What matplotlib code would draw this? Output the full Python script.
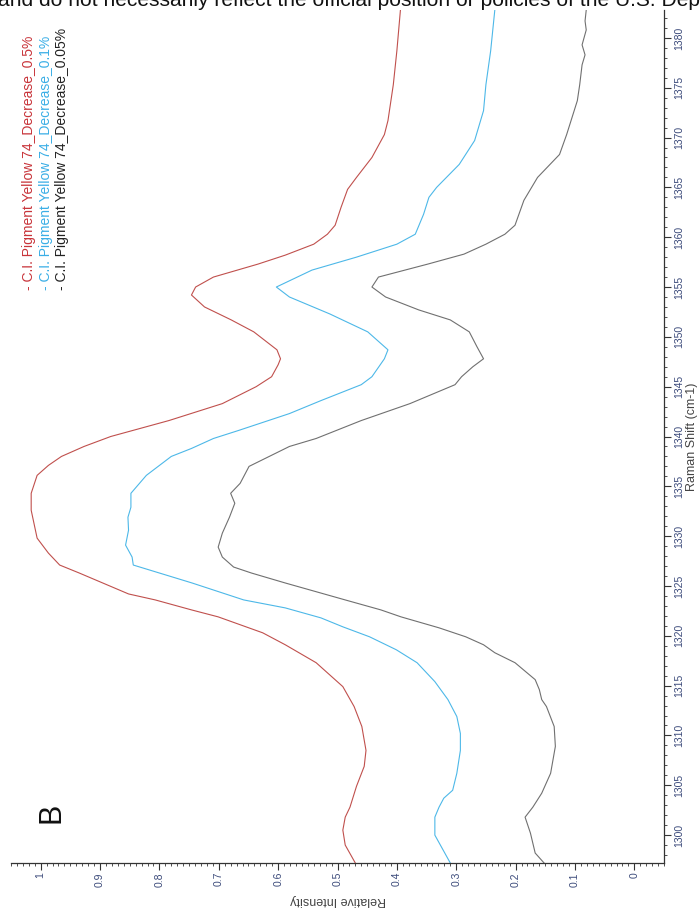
import numpy as np
import matplotlib
matplotlib.use("Agg")
import matplotlib.pyplot as plt
from matplotlib.ticker import MultipleLocator, FuncFormatter

plt.rcParams['font.family'] = ['Liberation Sans', 'DejaVu Sans']

# ----- spectra: Raman shift (cm-1) and relative intensity -----
shift_05 = [1297.2, 1299.0, 1300.5, 1301.8, 1302.8, 1304.9, 1306.9, 1308.5, 1310.9, 1312.9,
            1314.9, 1317.3, 1319.1, 1320.3, 1321.9, 1322.6, 1323.6, 1324.2, 1326.3, 1327.1,
            1328.3, 1329.8, 1332.6, 1334.3, 1336.1, 1337.1, 1338.0, 1339.0, 1340.0, 1341.6,
            1343.3, 1345.0, 1346.0, 1347.2, 1347.8, 1348.7, 1350.5, 1351.7, 1353.0, 1354.2,
            1355.0, 1356.0, 1357.3, 1358.2, 1359.3, 1360.3, 1361.2, 1363.0, 1364.8, 1366.0,
            1368.0, 1370.3, 1371.7, 1375.3, 1378.7, 1382.8]
inten_05 = [0.470, 0.487, 0.491, 0.487, 0.479, 0.468, 0.455, 0.452, 0.459, 0.472,
            0.491, 0.536, 0.588, 0.626, 0.701, 0.746, 0.807, 0.852, 0.935, 0.968,
            0.987, 1.006, 1.016, 1.016, 1.006, 0.987, 0.965, 0.927, 0.882, 0.784,
            0.694, 0.637, 0.611, 0.600, 0.596, 0.602, 0.641, 0.679, 0.724, 0.746,
            0.739, 0.709, 0.634, 0.588, 0.540, 0.517, 0.504, 0.494, 0.483, 0.468,
            0.442, 0.421, 0.415, 0.406, 0.400, 0.394]

shift_01 = [1297.2, 1300.0, 1301.8, 1302.8, 1303.7, 1304.5, 1306.2, 1308.5, 1310.2, 1311.9,
            1313.6, 1315.4, 1317.3, 1318.6, 1319.9, 1320.9, 1321.8, 1322.8, 1323.6, 1325.3,
            1327.1, 1327.9, 1329.1, 1330.6, 1331.9, 1332.9, 1334.3, 1336.1, 1338.0, 1338.8,
            1339.8, 1340.6, 1342.3, 1343.6, 1345.2, 1346.0, 1347.8, 1348.7, 1350.5, 1352.3,
            1354.0, 1355.0, 1356.7, 1358.0, 1359.3, 1360.3, 1362.3, 1364.0, 1365.0, 1367.3,
            1369.7, 1372.7, 1375.3, 1378.7, 1382.8]
inten_01 = [0.310, 0.336, 0.336, 0.329, 0.321, 0.306, 0.299, 0.293, 0.293, 0.299,
            0.314, 0.336, 0.366, 0.401, 0.446, 0.491, 0.528, 0.588, 0.658, 0.745,
            0.844, 0.846, 0.857, 0.852, 0.853, 0.848, 0.848, 0.822, 0.780, 0.746,
            0.709, 0.667, 0.581, 0.528, 0.460, 0.442, 0.421, 0.415, 0.449, 0.513,
            0.581, 0.603, 0.543, 0.468, 0.400, 0.369, 0.355, 0.346, 0.333, 0.295,
            0.269, 0.254, 0.250, 0.242, 0.235]

shift_005 = [1297.2, 1298.2, 1300.2, 1301.8, 1302.8, 1304.2, 1306.2, 1308.9, 1310.9, 1312.9,
             1313.6, 1314.6, 1315.6, 1317.3, 1318.3, 1319.1, 1319.9, 1320.8, 1321.9, 1322.6,
             1323.6, 1325.3, 1326.3, 1326.9, 1327.9, 1328.9, 1330.3, 1331.9, 1333.3, 1334.3,
             1335.3, 1337.0, 1338.0, 1339.0, 1339.8, 1341.6, 1343.3, 1345.2, 1346.0, 1347.0,
             1347.8, 1349.0, 1350.5, 1351.7, 1352.7, 1354.0, 1355.0, 1356.0, 1357.3, 1358.3,
             1359.3, 1360.3, 1361.2, 1363.7, 1366.0, 1368.3, 1370.3, 1373.7, 1375.3, 1377.3,
             1378.3, 1379.3, 1380.8, 1381.7, 1382.8]
inten_005 = [0.152, 0.167, 0.175, 0.184, 0.171, 0.156, 0.141, 0.133, 0.135, 0.148,
             0.156, 0.160, 0.167, 0.201, 0.235, 0.254, 0.284, 0.329, 0.393, 0.427,
             0.487, 0.588, 0.645, 0.675, 0.694, 0.701, 0.694, 0.682, 0.673, 0.680,
             0.664, 0.649, 0.615, 0.581, 0.536, 0.460, 0.378, 0.302, 0.291, 0.272,
             0.254, 0.265, 0.278, 0.310, 0.363, 0.419, 0.442, 0.431, 0.348, 0.287,
             0.250, 0.218, 0.201, 0.186, 0.163, 0.126, 0.114, 0.096, 0.092, 0.088,
             0.083, 0.088, 0.081, 0.083, 0.081]

labels = ["- C.I. Pigment Yellow 74_Decrease_0.5%",
          "- C.I. Pigment Yellow 74_Decrease_0.1%",
          "- C.I. Pigment Yellow 74_Decrease_0.05%"]
line_colors = ["#c0504d", "#4db8e8", "#707070"]
text_colors = ["#c8343a", "#3aaee6", "#222222"]

W, H = 700, 911
fig = plt.figure(figsize=(W / 100, H / 100), dpi=100)

# axes box in pixels (left, top, right, bottom)
L, T, R, B = 11, 10, 664, 863
ax = fig.add_axes([L / W, 1 - B / H, (R - L) / W, (B - T) / H])

# the plot lies on its side: intensity runs right-to-left, shift bottom-to-top
for sh, iv, c in zip([shift_05, shift_01, shift_005],
                     [inten_05, inten_01, inten_005], line_colors):
    ax.plot(iv, sh, color=c, lw=0.8)

ax.set_xlim(1.05, -0.05)
ax.set_ylim(1297.2, 1382.8)

for s in ("top", "left"):
    ax.spines[s].set_visible(False)
for s in ("bottom", "right"):
    ax.spines[s].set_color("#333333")
    ax.spines[s].set_linewidth(0.9)

ax.yaxis.tick_right()
ax.xaxis.set_major_locator(MultipleLocator(0.1))
ax.xaxis.set_minor_locator(MultipleLocator(0.01))
ax.yaxis.set_major_locator(MultipleLocator(5))
ax.yaxis.set_minor_locator(MultipleLocator(1))
ax.xaxis.set_major_formatter(FuncFormatter(lambda v, p: f"{round(v, 2) + 0.0:g}"))
ax.yaxis.set_major_formatter(FuncFormatter(lambda v, p: f"{v:.0f}"))

tick_col = "#3b4a7a"
ax.tick_params(which="major", direction="out", length=5, width=0.8, color="#333333",
               labelsize=7.5, labelcolor=tick_col, labelrotation=90)
ax.tick_params(which="minor", direction="out", length=2, width=0.6, color="#333333")
ax.tick_params(axis="x", pad=1.5)
ax.tick_params(axis="y", pad=2.5)
plt.setp(ax.get_yticklabels(), va="center")

# axis titles
fig.text(692 / W, 1 - 437 / H, "Raman Shift (cm-1)", rotation=90, ha="center",
         va="center", fontsize=9, color="#444444")
fig.text(338 / W, 1 - 900 / H, "Relative Intensity", rotation=180, ha="center",
         va="center", fontsize=9, color="#444444")

# legend entries as coloured text
for k, (lab, c) in enumerate(zip(labels, text_colors)):
    fig.text((29 + 16.7 * k) / W, 1 - 290 / H, lab, rotation=90, rotation_mode="anchor",
             ha="left", va="center", fontsize=10, color=c)

# panel letter
fig.text(51 / W, 1 - 813 / H, "B", rotation=90, ha="center", va="center",
         fontsize=22, color="#111111")

# running page text, cut off by the top edge
fig.text(-2 / W, 1 - 6.5 / H,
         "and do not necessarily reflect the official position or policies of the U.S. Department",
         ha="left", va="baseline", fontsize=15.1, color="#111111")

fig.savefig("out.png", dpi=100)
